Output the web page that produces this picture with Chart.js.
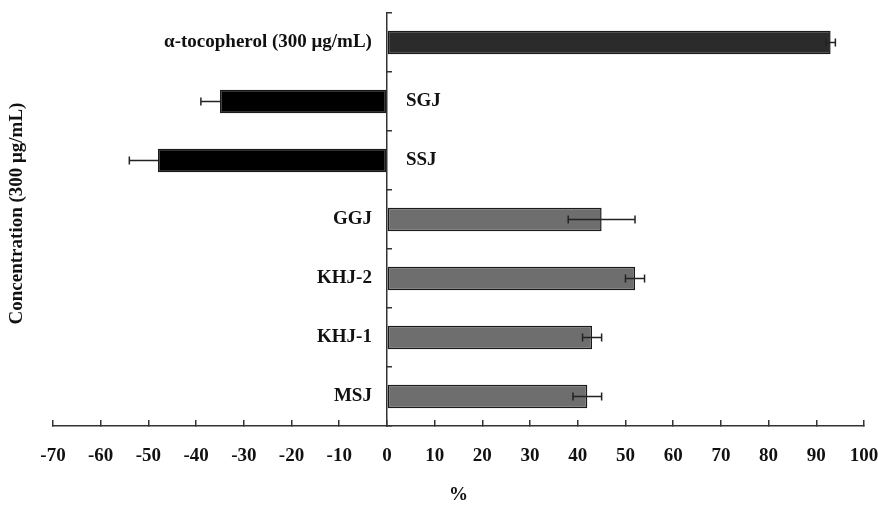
<!DOCTYPE html>
<html>
<head>
<meta charset="utf-8">
<script src="https://cdn.jsdelivr.net/npm/chart.js@4.4.0/dist/chart.umd.min.js"></script>
<style>
  html, body { margin: 0; padding: 0; background: #fff; }
  #wrap { width: 878px; height: 505px; }
</style>
</head>
<body>
<div id="wrap"><canvas id="grafico"></canvas></div>
<script>
// dados (de cima para baixo)
const categorias = ['α-tocopherol (300 μg/mL)', 'SGJ', 'SSJ', 'GGJ', 'KHJ-2', 'KHJ-1', 'MSJ'];
const valores = [93, -35, -48, 45, 52, 43, 42];
const erros = [1, 4, 6, 7, 2, 2, 3];
const eixoX = { min: -70, max: 100, passo: 10 };

const fonte = 'Liberation Serif, Times New Roman, serif';

function corBarra(i) {
    if (i === 0) return '#2b2b2b';
    return valores[i] < 0 ? '#000000' : '#6e6e6e';
}

// desenha as barras de erro
const barrasErro = {
    id: 'barrasErro',
    afterDatasetsDraw(chart) {
        const ctx = chart.ctx;
        const x = chart.scales.x;
        const meta = chart.getDatasetMeta(0);
        ctx.save();
        ctx.strokeStyle = '#222';
        ctx.lineWidth = 1.5;
        meta.data.forEach((barra, i) => {
            const v = valores[i];
            const e = erros[i];
            const y = barra.y;
            // barras negativas: só o lado de fora
            const ini = v < 0 ? x.getPixelForValue(v) : x.getPixelForValue(v - e);
            const fim = v < 0 ? x.getPixelForValue(v - e) : x.getPixelForValue(v + e);
            ctx.beginPath();
            ctx.moveTo(ini, y);
            ctx.lineTo(fim, y);
            [ini, fim].forEach(px => {
                if (v < 0 && px === ini) return;
                ctx.moveTo(px, y - 4);
                ctx.lineTo(px, y + 4);
            });
            ctx.stroke();
        });
        ctx.restore();
    }
};

// rótulos das categorias junto ao eixo e título vertical
const rotulos = {
    id: 'rotulos',
    afterDraw(chart) {
        const ctx = chart.ctx;
        const x = chart.scales.x;
        const y = chart.scales.y;
        const x0 = x.getPixelForValue(0);
        ctx.save();
        ctx.fillStyle = '#111';
        ctx.font = 'bold 19px ' + fonte;
        ctx.textBaseline = 'middle';
        categorias.forEach((nome, i) => {
            const py = y.getPixelForValue(i);
            if (valores[i] < 0) {
                ctx.textAlign = 'left';
                ctx.fillText(nome, x0 + 19, py);
            } else {
                ctx.textAlign = 'right';
                ctx.fillText(nome, x0 - 15, py);
            }
        });
        const area = chart.chartArea;
        ctx.translate(17, (area.top + area.bottom) / 2 - 6);
        ctx.rotate(-Math.PI / 2);
        ctx.textAlign = 'center';
        ctx.fillText('Concentration (300 μg/mL)', 0, 0);
        ctx.restore();
    }
};

new Chart(document.getElementById('grafico'), {
    type: 'bar',
    data: {
        labels: categorias,
        datasets: [{
            data: valores,
            backgroundColor: valores.map((v, i) => corBarra(i)),
            borderColor: '#1a1a1a',
            borderWidth: 1.5,
            borderSkipped: false,
            categoryPercentage: 1,
            barPercentage: 0.4
        }]
    },
    options: {
        indexAxis: 'y',
        responsive: true,
        maintainAspectRatio: false,
        animation: false,
        layout: { padding: { left: 53, right: 14, top: 13, bottom: 0 } },
        plugins: { legend: { display: false }, tooltip: { enabled: false } },
        scales: {
            x: {
                type: 'linear',
                min: eixoX.min,
                max: eixoX.max,
                afterFit(escala) {
                    // o padding dos rótulos não deve empurrar a área do gráfico
                    escala.paddingRight = 14;
                    escala.paddingLeft = 14;
                    escala.height = 79;
                },
                ticks: {
                    stepSize: eixoX.passo,
                    autoSkip: false,
                    maxRotation: 0,
                    padding: 25,
                    color: '#111',
                    font: { family: fonte, size: 19, weight: 'bold' }
                },
                grid: { drawOnChartArea: false, tickLength: -6, color: '#333', lineWidth: 1.5 },
                border: { color: '#333', width: 1.5 },
                title: {
                    display: true,
                    text: '%',
                    color: '#111',
                    padding: { top: 18, bottom: 0 },
                    font: { family: fonte, size: 19, weight: 'bold', lineHeight: 1 }
                }
            },
            y: {
                position: { x: 0 },
                offset: true,
                ticks: { display: false },
                grid: { drawOnChartArea: false, tickLength: -6, color: '#333', lineWidth: 1.5, offset: true },
                border: { color: '#333', width: 1.5 }
            }
        }
    },
    plugins: [barrasErro, rotulos]
});
</script>
</body>
</html>
